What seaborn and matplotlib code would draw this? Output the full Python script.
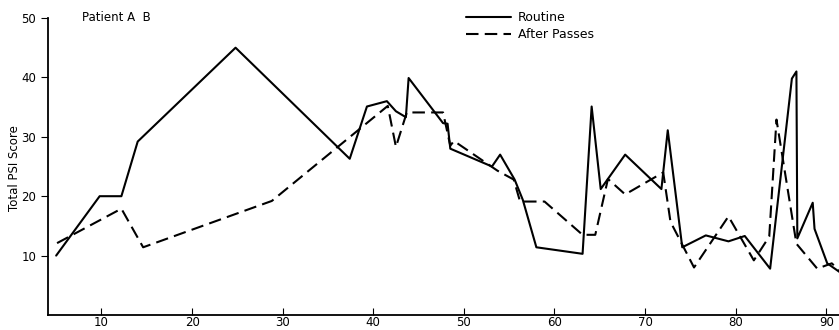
import pandas as pd
import matplotlib
matplotlib.use("Agg")
import matplotlib.pyplot as plt
import seaborn as sns

# values (study day vs total PSI score)
routine_x = [5.0, 9.8, 12.2, 14.0, 24.8, 37.4, 39.3, 41.5, 42.5, 43.6, 43.9,
             47.7, 48.2, 48.5, 53.1, 54.0, 55.6, 56.5, 58.0, 63.1, 64.1, 65.1,
             67.8, 71.8, 72.5, 74.1, 76.7, 79.2, 81.0, 83.8, 86.2, 86.7, 86.8,
             88.5, 88.7, 90.1, 91.5]
routine_y = [10.0, 20.0, 20.0, 29.2, 45.0, 26.3, 35.1, 36.0, 34.3, 33.3, 39.9,
             32.3, 32.2, 28.0, 25.0, 27.0, 22.8, 19.4, 11.4, 10.3, 35.1, 21.2,
             27.0, 21.2, 31.1, 11.4, 13.4, 12.4, 13.3, 7.8, 39.8, 41.0, 12.9,
             18.9, 14.5, 8.7, 7.2]

passes_x = [5.1, 12.2, 14.6, 28.8, 41.6, 42.5, 43.7, 47.7, 48.5, 48.9, 53.7,
            55.5, 56.2, 58.9, 63.1, 64.5, 65.9, 67.8, 72.0, 72.8, 75.4, 79.2,
            82.0, 83.7, 84.5, 86.7, 89.0, 90.6, 91.5]
passes_y = [12.1, 17.9, 11.4, 19.2, 35.2, 28.3, 34.1, 34.1, 28.5, 29.3, 24.3,
            22.8, 19.1, 19.1, 13.5, 13.5, 22.9, 20.3, 24.0, 15.7, 8.0, 16.6,
            9.2, 13.2, 32.9, 12.0, 7.8, 8.7, 7.4]

series_names = ["Routine", "After Passes"]
x_ticks = [10, 20, 30, 40, 50, 60, 70, 80, 90]
y_ticks = [10, 20, 30, 40, 50]

df = pd.concat([
    pd.DataFrame({"day": routine_x, "score": routine_y, "series": series_names[0]}),
    pd.DataFrame({"day": passes_x, "score": passes_y, "series": series_names[1]}),
], ignore_index=True)

sns.set_style("ticks")
plt.rcParams["font.family"] = ["Liberation Sans Narrow", "DejaVu Sans"]
# scanned figure: everything in plain black
for key in ["text.color", "axes.labelcolor", "xtick.color", "ytick.color", "axes.edgecolor"]:
    plt.rcParams[key] = "black"

fig = plt.figure(figsize=(8.39, 3.30), dpi=100)
ax = fig.add_axes([48 / 839, 15 / 330, 791 / 839, 297 / 330])

sns.lineplot(data=df, x="day", y="score", hue="series", style="series",
             palette={"Routine": "black", "After Passes": "black"},
             dashes={"Routine": "", "After Passes": (6, 3)},
             estimator=None, sort=False, linewidth=1.5, ax=ax, legend=True)

ax.set_xlim(4.1, 91.4)
ax.set_ylim(0, 50)
ax.set_xticks(x_ticks)
ax.set_yticks(y_ticks)
ax.tick_params(axis="x", direction="in", length=5, labelsize=8.5, pad=1)
ax.tick_params(axis="y", direction="out", length=5, labelsize=8.5)
for s in ["top", "right"]:
    ax.spines[s].set_visible(False)
ax.spines["left"].set_linewidth(1.3)
ax.spines["bottom"].set_linewidth(1.3)

ax.set_xlabel("")
ax.set_ylabel("Total PSI Score", fontsize=8.5)
ax.yaxis.set_label_coords(-27 / 791, (315 - 168) / 297)

handles, labels = ax.get_legend_handles_labels()
ax.legend(handles, labels, loc="upper left", bbox_to_anchor=(455 / 839, 1.0),
          bbox_transform=fig.transFigure, frameon=False, handlelength=3.6,
          fontsize=9, labelspacing=0.3, handletextpad=0.5)

fig.text(82 / 839, 1 - 17.5 / 330, "Patient A  B", fontsize=8.5, va="center")

fig.savefig("out.png", dpi=100)
